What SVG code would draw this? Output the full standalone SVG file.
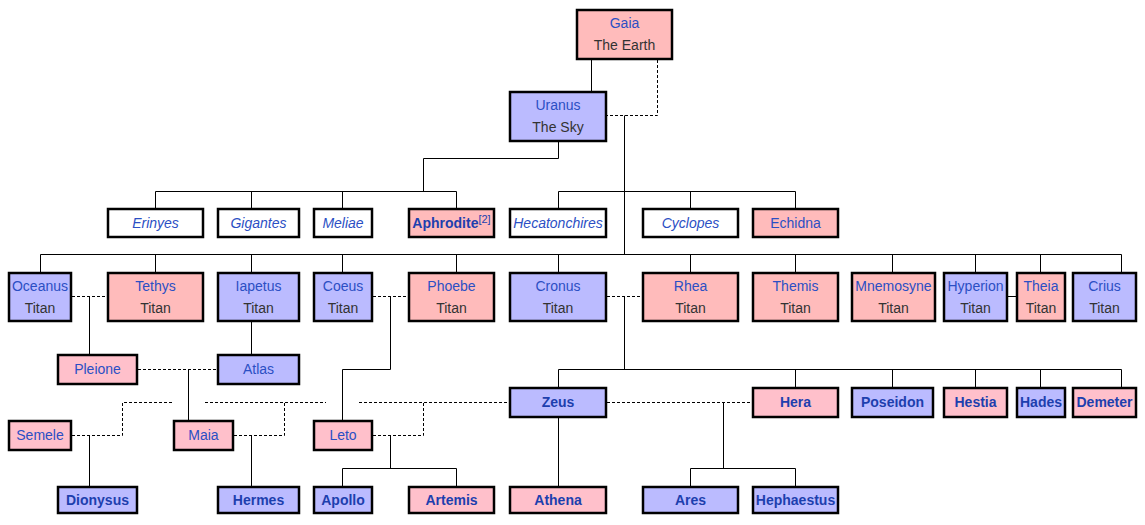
<svg xmlns="http://www.w3.org/2000/svg" width="1145" height="525" viewBox="0 0 1145 525">
<style>
.b{stroke:#000;stroke-width:2.5}
.w{fill:#fff}
.t{fill:#ffbbbb}
.p{fill:#ffc0cb}
.u{fill:#bbbbff}
text{font-family:"Liberation Sans",Arial,sans-serif;font-size:14px;text-anchor:middle}
.n{fill:#2b4fc4}
.i{fill:#2b4fc4;font-style:italic}
.s{fill:#1d3fae;font-weight:bold}
.d{fill:#333}
.c path{fill:none;stroke:#000;stroke-width:1}
.c .ds{stroke-dasharray:3,2}
</style>
<rect width="1145" height="525" fill="#fff"/>
<g class="c" id="connectors">
<path d="M591.5 60V91"/>
<path class="ds" d="M657.5 60V115.5H607"/>
<path d="M558.5 142V158.5H423.5V191.5"/>
<path d="M155.5 191.5H456.5M155.5 191.5V208M251.5 191.5V208M342.5 191.5V208M456.5 191.5V208"/>
<path d="M624.5 115.5V254.5"/>
<path d="M558.5 191.5H795.5M558.5 191.5V208M690.5 191.5V208M795.5 191.5V208"/>
<path d="M40.5 254.5H1121.5M40.5 254.5V272M155.5 254.5V272M251.5 254.5V272M342.5 254.5V272M456.5 254.5V272M558.5 254.5V272M690.5 254.5V272M795.5 254.5V272M892.5 254.5V272M975.5 254.5V272M1040.5 254.5V272M1121.5 254.5V272"/>
<path d="M1008 296.5H1016"/>
<path class="ds" d="M72 296.5H107"/>
<path class="ds" d="M373 296.5H408"/>
<path class="ds" d="M607 296.5H642"/>
<path d="M89.5 296.5V354"/>
<path d="M251.5 322V354"/>
<path class="ds" d="M138 369.5H217"/>
<path d="M188.5 369.5V420"/>
<path d="M390.5 296.5V369.5H342.5V420"/>
<path d="M624.5 296.5V369.5"/>
<path d="M558.5 369.5H1121.5M558.5 369.5V387M795.5 369.5V387M892.5 369.5V387M975.5 369.5V387M1040.5 369.5V387M1121.5 369.5V387"/>
<path class="ds" d="M72 435.5H122.5V402.5H172"/>
<path class="ds" d="M234 435.5H284.5V402.5"/>
<path class="ds" d="M205 402.5H326"/>
<path class="ds" d="M373 435.5H423.5V402.5"/>
<path class="ds" d="M359 402.5H509"/>
<path class="ds" d="M607 402.5H752"/>
<path d="M89.5 435.5V486"/>
<path d="M251.5 435.5V486"/>
<path d="M390.5 435.5V468.5M342.5 468.5H456.5M342.5 468.5V486M456.5 468.5V486"/>
<path d="M558.5 418V486"/>
<path d="M723.5 402.5V468.5M690.5 468.5H795.5M690.5 468.5V486M795.5 468.5V486"/>
</g>
<g id="gaia"><rect class="b t" x="577" y="10" width="95" height="49"/><text class="n" x="624.5" y="28">Gaia</text><text class="d" x="624.5" y="50">The Earth</text></g>
<g id="uranus"><rect class="b u" x="510" y="92" width="96" height="49"/><text class="n" x="558" y="110">Uranus</text><text class="d" x="558" y="132">The Sky</text></g>
<g id="erinyes"><rect class="b w" x="108" y="209" width="95" height="28"/><text class="i" x="155.5" y="228">Erinyes</text></g>
<g id="gigantes"><rect class="b w" x="218" y="209" width="81" height="28"/><text class="i" x="258.5" y="228">Gigantes</text></g>
<g id="meliae"><rect class="b w" x="314" y="209" width="58" height="28"/><text class="i" x="343" y="228">Meliae</text></g>
<g id="aphrodite"><rect class="b t" x="409" y="209" width="85" height="28"/><text class="s" x="451.5" y="228">Aphrodite<tspan dy="-5" font-size="11" font-weight="normal">[2]</tspan></text></g>
<g id="hecatonchires"><rect class="b w" x="510" y="209" width="96" height="28"/><text class="i" x="558" y="228">Hecatonchires</text></g>
<g id="cyclopes"><rect class="b w" x="643" y="209" width="95" height="28"/><text class="i" x="690.5" y="228">Cyclopes</text></g>
<g id="echidna"><rect class="b t" x="753" y="209" width="85" height="28"/><text class="n" x="795.5" y="228">Echidna</text></g>
<g id="oceanus"><rect class="b u" x="9" y="273" width="62" height="48"/><text class="n" x="40" y="291">Oceanus</text><text class="d" x="40" y="313">Titan</text></g>
<g id="tethys"><rect class="b t" x="108" y="273" width="95" height="48"/><text class="n" x="155.5" y="291">Tethys</text><text class="d" x="155.5" y="313">Titan</text></g>
<g id="iapetus"><rect class="b u" x="218" y="273" width="81" height="48"/><text class="n" x="258.5" y="291">Iapetus</text><text class="d" x="258.5" y="313">Titan</text></g>
<g id="coeus"><rect class="b u" x="314" y="273" width="58" height="48"/><text class="n" x="343" y="291">Coeus</text><text class="d" x="343" y="313">Titan</text></g>
<g id="phoebe"><rect class="b t" x="409" y="273" width="85" height="48"/><text class="n" x="451.5" y="291">Phoebe</text><text class="d" x="451.5" y="313">Titan</text></g>
<g id="cronus"><rect class="b u" x="510" y="273" width="96" height="48"/><text class="n" x="558" y="291">Cronus</text><text class="d" x="558" y="313">Titan</text></g>
<g id="rhea"><rect class="b t" x="643" y="273" width="95" height="48"/><text class="n" x="690.5" y="291">Rhea</text><text class="d" x="690.5" y="313">Titan</text></g>
<g id="themis"><rect class="b t" x="753" y="273" width="85" height="48"/><text class="n" x="795.5" y="291">Themis</text><text class="d" x="795.5" y="313">Titan</text></g>
<g id="mnemosyne"><rect class="b t" x="852" y="273" width="83" height="48"/><text class="n" x="893.5" y="291">Mnemosyne</text><text class="d" x="893.5" y="313">Titan</text></g>
<g id="hyperion"><rect class="b u" x="944" y="273" width="63" height="48"/><text class="n" x="975.5" y="291">Hyperion</text><text class="d" x="975.5" y="313">Titan</text></g>
<g id="theia"><rect class="b t" x="1017" y="273" width="48" height="48"/><text class="n" x="1041" y="291">Theia</text><text class="d" x="1041" y="313">Titan</text></g>
<g id="crius"><rect class="b u" x="1073" y="273" width="63" height="48"/><text class="n" x="1104.5" y="291">Crius</text><text class="d" x="1104.5" y="313">Titan</text></g>
<g id="pleione"><rect class="b p" x="58" y="355" width="79" height="29"/><text class="n" x="97.5" y="374">Pleione</text></g>
<g id="atlas"><rect class="b u" x="218" y="355" width="81" height="29"/><text class="n" x="258.5" y="374">Atlas</text></g>
<g id="zeus"><rect class="b u" x="510" y="388" width="96" height="29"/><text class="s" x="558" y="407">Zeus</text></g>
<g id="hera"><rect class="b p" x="753" y="388" width="85" height="29"/><text class="s" x="795.5" y="407">Hera</text></g>
<g id="poseidon"><rect class="b u" x="852" y="388" width="81" height="29"/><text class="s" x="892.5" y="407">Poseidon</text></g>
<g id="hestia"><rect class="b p" x="944" y="388" width="63" height="29"/><text class="s" x="975.5" y="407">Hestia</text></g>
<g id="hades"><rect class="b u" x="1017" y="388" width="48" height="29"/><text class="s" x="1041" y="407">Hades</text></g>
<g id="demeter"><rect class="b p" x="1073" y="388" width="63" height="29"/><text class="s" x="1104.5" y="407">Demeter</text></g>
<g id="semele"><rect class="b p" x="9" y="421" width="62" height="29"/><text class="n" x="40" y="440">Semele</text></g>
<g id="maia"><rect class="b p" x="174" y="421" width="59" height="29"/><text class="n" x="203.5" y="440">Maia</text></g>
<g id="leto"><rect class="b p" x="314" y="421" width="58" height="29"/><text class="n" x="343" y="440">Leto</text></g>
<g id="dionysus"><rect class="b u" x="58" y="487" width="79" height="26"/><text class="s" x="97.5" y="505">Dionysus</text></g>
<g id="hermes"><rect class="b u" x="218" y="487" width="81" height="26"/><text class="s" x="258.5" y="505">Hermes</text></g>
<g id="apollo"><rect class="b u" x="314" y="487" width="58" height="26"/><text class="s" x="343" y="505">Apollo</text></g>
<g id="artemis"><rect class="b p" x="409" y="487" width="85" height="26"/><text class="s" x="451.5" y="505">Artemis</text></g>
<g id="athena"><rect class="b p" x="510" y="487" width="96" height="26"/><text class="s" x="558" y="505">Athena</text></g>
<g id="ares"><rect class="b u" x="643" y="487" width="95" height="26"/><text class="s" x="690.5" y="505">Ares</text></g>
<g id="hephaestus"><rect class="b u" x="753" y="487" width="85" height="26"/><text class="s" x="795.5" y="505">Hephaestus</text></g>
</svg>
